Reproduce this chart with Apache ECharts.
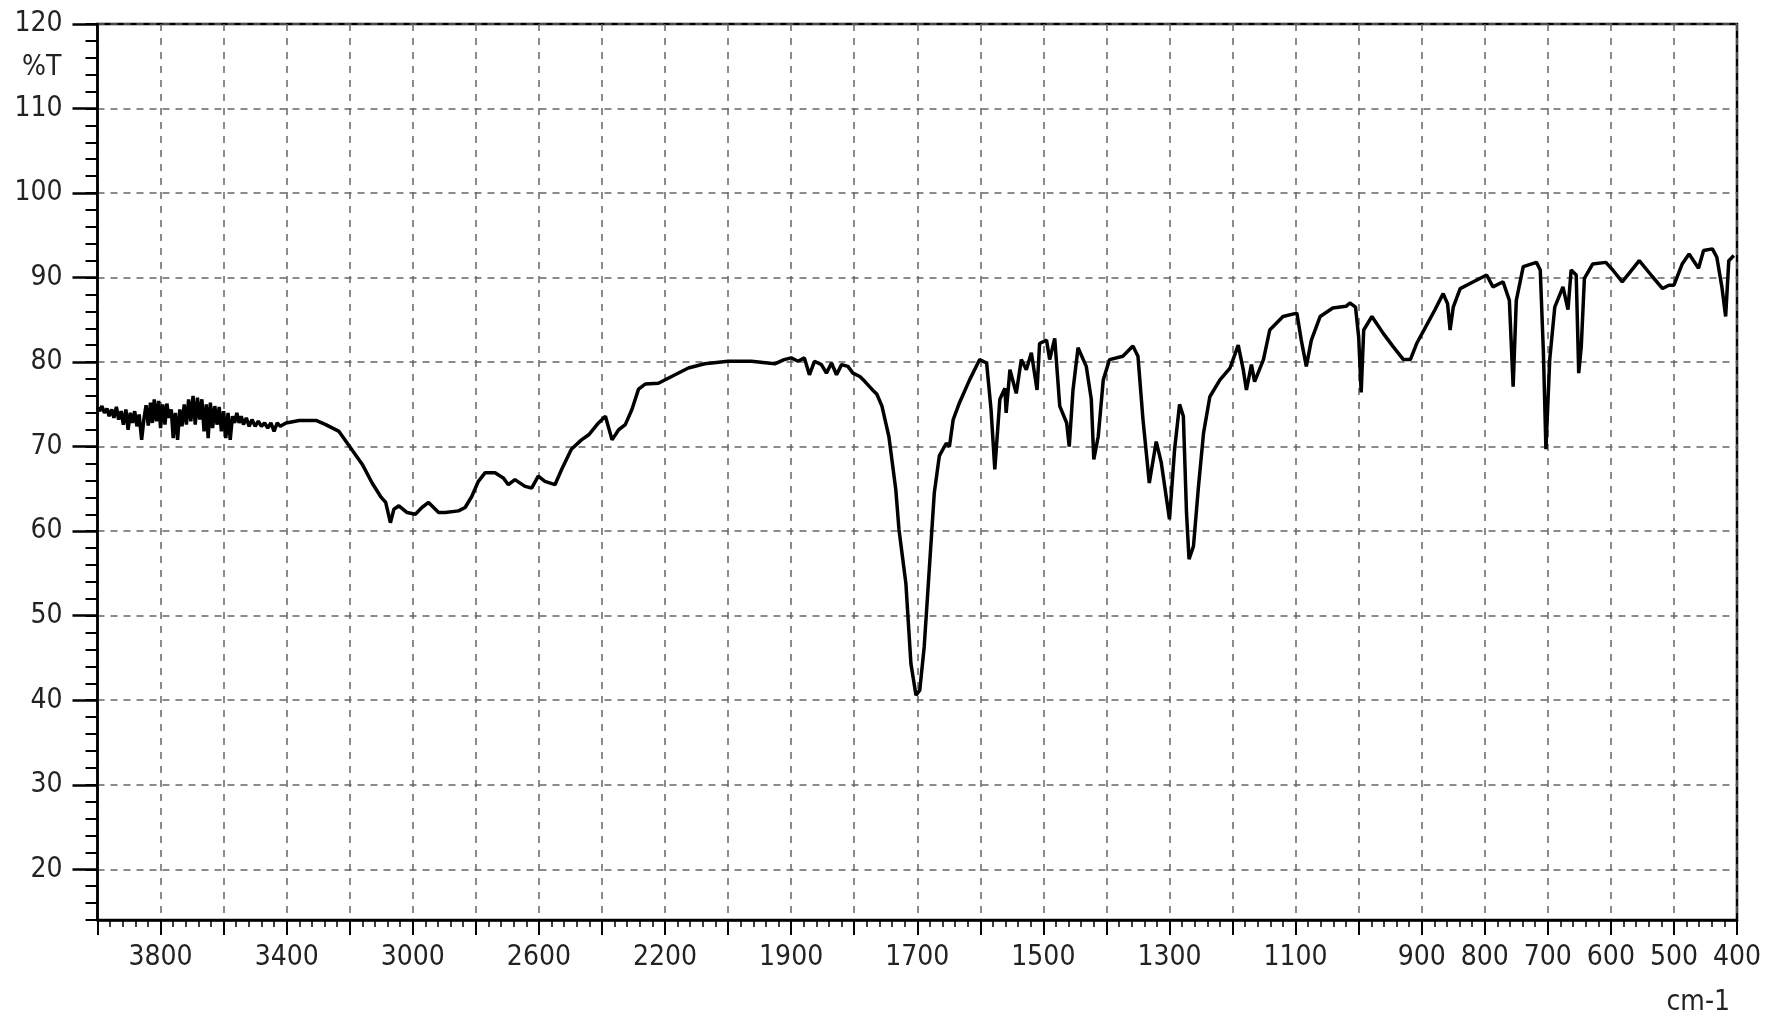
<!DOCTYPE html>
<html>
<head>
<meta charset="utf-8">
<script src="https://cdn.jsdelivr.net/npm/echarts@6/dist/echarts.min.js"></script>
<style>
html,body{margin:0;padding:0;background:#fff;}
#chart{width:1778px;height:1019px;}
</style>
</head>
<body>
<div id="chart"></div>
<script>
// Wavenumbers (cm-1) and transmittance (%T)
const wavenumbers = [
4000,3993,3986,3978,3970,3963,3955,3948,3940,3933,3925,3918,3910,3903,3896,3889,3882,3875,3868,3860,3853,3846,3839,3832,3826,3820,3813,3806,3800,3793,3786,3780,3773,3766,3760,3753,3746,3739,3732,3725,3718,3711,3704,3697,3690,3683,3676,3669,3662,3655,3649,3642,3635,3628,3621,3614,3607,3600,3593,3586,3579,3572,3565,3558,3551,3544,3537,3528,3519,3510,3500,3490,3480,3470,3460,3450,3440,3430,3420,3402,3360,3307,3276,3234,3202,3160,3129,3102,3086,3071,3060,3044,3018,2992,2971,2950,2918,2897,2855,2834,2813,2792,2771,2739,2713,2697,2676,2644,2623,2602,2581,2549,2528,2497,2465,2442,2411,2389,2368,2347,2326,2305,2284,2263,2221,2179,2126,2074,2000,1963,1926,1911,1900,1889,1879,1871,1863,1852,1844,1836,1828,1820,1810,1802,1791,1783,1772,1764,1756,1745,1734,1729,1718,1710,1702,1696,1689,1681,1673,1665,1654,1649,1643,1633,1617,1601,1590,1583,1577,1569,1561,1559,1553,1543,1535,1527,1519,1510,1506,1495,1490,1482,1474,1463,1459,1453,1445,1432,1424,1420,1413,1405,1395,1374,1358,1350,1342,1332,1321,1313,1300,1292,1284,1278,1273,1269,1262,1254,1246,1236,1220,1204,1191,1183,1178,1170,1165,1151,1141,1120,1098,1091,1083,1075,1061,1041,1020,1014,1005,1000,996,992,979,961,945,929,918,908,892,879,866,859,855,850,839,818,797,787,771,761,755,750,739,718,712,707,703,697,689,676,668,663,655,651,647,642,629,608,597,582,555,534,518,508,500,487,476,461,453,439,432,424,418,413,405
];
const transmittance = [
74.6,74.2,74.8,74.0,74.5,73.6,74.4,73.4,74.7,73.2,74.2,72.6,74.4,72.0,74.0,72.8,74.2,72.4,73.8,70.8,73.2,74.9,72.5,75.2,72.8,75.6,73.0,75.4,72.2,75.0,72.6,75.1,73.4,74.4,71.0,74.0,70.8,74.4,72.4,75.0,72.6,75.6,73.0,76.0,72.6,75.8,73.2,75.6,71.8,75.0,71.0,75.2,72.2,74.8,72.6,74.7,71.8,74.2,71.0,74.0,70.8,73.6,72.8,74.0,72.8,73.6,72.6,73.4,72.4,73.2,72.4,73.0,72.4,72.8,72.2,72.8,71.8,72.8,72.4,72.8,73.1,73.1,72.6,71.8,70.1,67.9,65.7,64.1,63.4,61.0,62.6,63.0,62.2,62.0,62.8,63.4,62.2,62.2,62.4,62.8,64.1,65.9,66.9,66.9,66.3,65.5,66.1,65.3,65.1,66.5,65.9,65.5,67.3,69.7,70.8,71.4,72.8,73.6,70.8,72.0,72.6,74.4,76.8,77.4,77.5,78.3,79.3,79.8,80.1,80.1,79.8,80.3,80.5,80.1,80.5,78.5,80.1,79.7,78.7,79.9,78.5,79.7,79.5,78.7,78.3,77.7,76.8,76.2,74.8,71.2,64.9,60.2,53.8,44.3,40.6,41.2,46.3,55.4,64.5,68.9,70.4,70.0,73.2,75.2,77.9,80.3,79.9,74.4,67.3,75.6,76.9,74.0,79.1,76.3,80.3,79.1,81.1,76.7,82.2,82.6,80.3,82.8,74.8,72.8,70.0,76.7,81.7,79.5,75.6,68.5,71.2,77.9,80.3,80.7,81.9,80.7,73.2,65.7,70.6,68.1,61.4,69.6,75.0,73.6,62.2,56.7,58.2,65.3,71.6,75.9,77.9,79.3,82.0,79.1,76.7,79.7,77.7,80.3,83.8,85.4,85.8,82.6,79.5,82.6,85.4,86.4,86.6,87.0,86.5,83.0,76.4,83.8,85.4,83.4,81.8,80.3,80.3,82.2,84.4,86.2,88.1,86.9,83.8,86.5,88.7,89.5,90.3,88.9,89.5,87.3,77.1,87.3,91.3,91.8,90.9,81.1,69.7,80.3,86.5,88.9,86.2,90.9,90.3,78.7,81.8,89.9,91.6,91.8,90.9,89.5,92.0,90.1,88.7,89.1,89.1,91.6,92.8,91.1,93.2,93.4,92.4,88.9,85.4,92.0,92.6
];
const tickLabels = [3800,3400,3000,2600,2200,1900,1700,1500,1300,1100,900,800,700,600,500,400];
const yLabels = [20,30,40,50,60,70,80,90,100,110,120];

// piecewise-linear wavenumber scale (change of scale at 2000 cm-1)
function toU(wn){ return wn >= 2000 ? (4000 - wn) / 400 : 5 + (2000 - wn) / 200; }
function fromU(u){ return u <= 5 ? 4000 - 400 * u : 2000 - 200 * (u - 5); }

const FONT = '"Liberation Sans Narrow","DejaVu Sans Condensed",sans-serif';
const FS = 28;
const chart = echarts.init(document.getElementById('chart'), null, {renderer:'canvas'});
chart.setOption({
  animation:false,
  backgroundColor:'#fff',
  title:[
    {text:'%T', left:17, top:49, textStyle:{fontFamily:FONT, fontSize:FS, fontWeight:'normal', color:'#222'}},
    {text:'cm-1', right:43, top:984, textStyle:{fontFamily:FONT, fontSize:FS, fontWeight:'normal', color:'#222'}}
  ],
  grid:{left:97.5, right:41, top:24, bottom:99, show:true, borderColor:'#000', borderWidth:2.5, backgroundColor:'transparent'},
  xAxis:{
    type:'value', min:0, max:13, interval:0.5,
    axisLine:{lineStyle:{color:'#000', width:2.5}},
    axisTick:{length:15, lineStyle:{color:'#000', width:2}},
    minorTick:{show:true, splitNumber:5, length:7, lineStyle:{color:'#000', width:1.5}},
    axisLabel:{customValues:tickLabels.map(toU), formatter:function(v){return String(Math.round(fromU(v)));},
      margin:24, fontFamily:FONT, fontSize:FS, color:'#222'},
    splitLine:{show:true, lineStyle:{type:[7,7], color:'#666', width:1.5}},
    minorSplitLine:{show:false}
  },
  yAxis:[
    {
      type:'value', min:14, max:120,
      axisLine:{show:true, lineStyle:{color:'#000', width:2.5}},
      axisTick:{show:true, customValues:yLabels, length:25, lineStyle:{color:'#000', width:2.5}},
      axisLabel:{customValues:yLabels, margin:35, fontFamily:FONT, fontSize:FS, color:'#222'},
      splitLine:{show:true, lineStyle:{type:[7,6], color:'#666', width:1.5}}
    },
    {
      type:'value', min:14, max:120, interval:2, position:'left',
      axisLine:{show:false},
      axisTick:{show:true, length:12, lineStyle:{color:'#000', width:2}},
      axisLabel:{show:false},
      splitLine:{show:false}
    }
  ],
  series:[{
    type:'line', yAxisIndex:0, showSymbol:false, silent:true,
    lineStyle:{color:'#000', width:3.5},
    data:wavenumbers.map(function(w,i){return [toU(w), transmittance[i]];})
  }]
});
</script>
</body>
</html>
